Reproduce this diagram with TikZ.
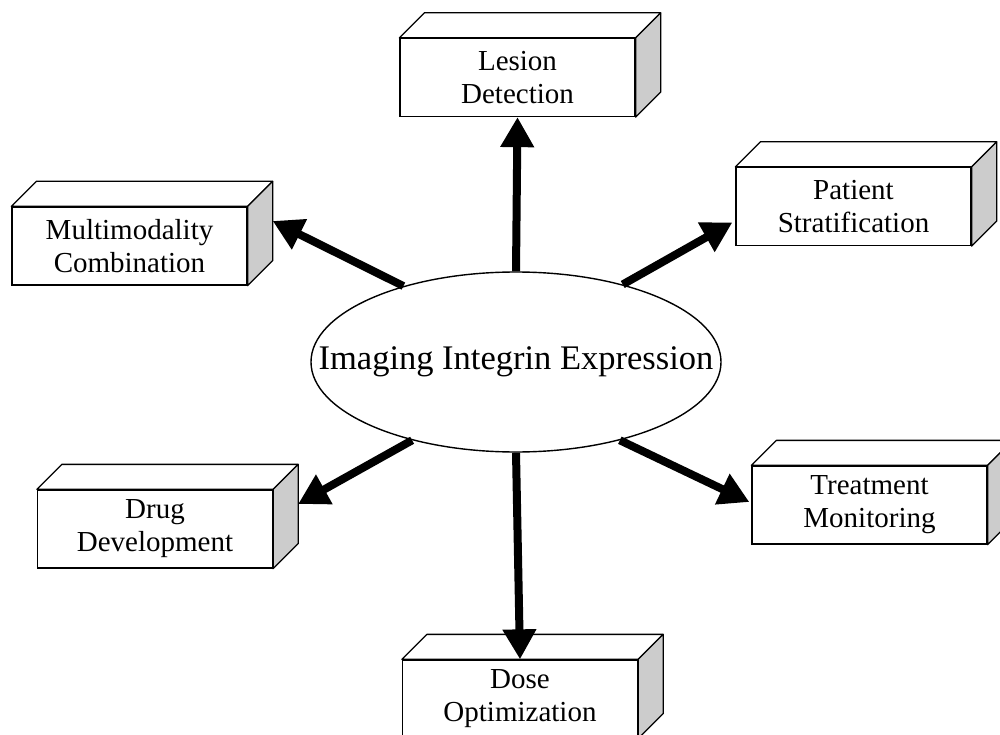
\documentclass[tikz,border=0pt]{standalone}
\usepackage{fontspec}
\setmainfont{Liberation Serif}
\usetikzlibrary{shapes.geometric,arrows.meta,calc}

\tikzset{
  front/.style={draw=black, line width=1.3pt, fill=white, rectangle,
    minimum width=235pt, minimum height=78pt, inner sep=0pt, align=center,
    font=\fontsize{29}{33}\selectfont},
  topface/.style={draw=black, line width=1.3pt, fill=white, line join=round},
  sideface/.style={draw=black, line width=1.3pt, fill=black!20, line join=round},
  hub/.style={draw=black, line width=1.4pt, fill=white, ellipse,
    minimum width=410pt, minimum height=180pt, inner sep=0pt,
    font=\fontsize{34.5}{40}\selectfont},
  link/.style={draw=black, line width=8pt,
    -{Triangle[length=30pt, width=32pt]}}
}

% a box drawn as a prism: front node plus top and right faces
\newcommand{\prismbox}[3]{%
  \node[front] (#1) at (#2) {#3};
  \draw[topface] (#1.north west) -- ++(25,-25)
    -- ($(#1.north east)+(25,-25)$) -- (#1.north east) -- cycle;
  \draw[sideface] (#1.north east) -- ($(#1.north east)+(25,-25)$)
    -- ($(#1.south east)+(25,-25)$) -- (#1.south east) -- cycle;
}

\begin{document}
\begin{tikzpicture}[x=1pt, y=-1pt]
\useasboundingbox (0,0) rectangle (1000,735);
\clip (0,0) rectangle (1000,735);

\prismbox{lesion}{517.5,77.5}{Lesion\\Detection}
\prismbox{multi}{129.5,246}{Multimodality\\Combination}
\prismbox{patient}{853.5,206.5}{Patient\\Stratification}
\prismbox{treat}{869.5,505}{Treatment\\Monitoring}
\prismbox{drug}{155,529}{Drug\\Development}
\prismbox{dose}{520,699}{Dose\\Optimization}

% the central ellipse; the text box is kept from widening the shape
\node[hub] (hub) at (516,362) {\makebox[0pt]{Imaging Integrin Expression}};

% arrow targets on the boxes
\coordinate (multiT) at ($(multi.east)+(25,-25)$);
\coordinate (drugT) at ($(drug.east)+(25,-25)$);
\coordinate (patientT) at ($(patient.west)+(-3,16)$);
\coordinate (treatT) at ($(treat.west)+(-2,-3)$);

\draw[link] (hub.north) -- (lesion.south);
\draw[link] (hub.south) -- (dose.north);
\draw[link] (hub.146) -- (multiT);
\draw[link] (hub.36.5) -- (patientT);
\draw[link] (hub.217.7) -- (drugT);
\draw[link] (hub.323) -- (treatT);
\end{tikzpicture}
\end{document}
